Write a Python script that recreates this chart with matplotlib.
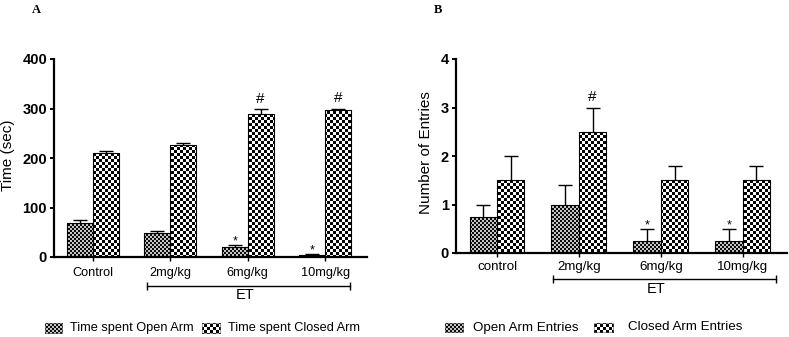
import numpy as np
import matplotlib
matplotlib.use('Agg')
import matplotlib.pyplot as plt
from matplotlib.patches import Rectangle
import matplotlib.transforms as mtransforms

# ---------------- data ----------------
groups_a = ['Control', '2mg/kg', '6mg/kg', '10mg/kg']
groups_b = ['control', '2mg/kg', '6mg/kg', '10mg/kg']

open_time = [68, 48, 21, 5]
open_time_err = [6, 5, 4, 2]
closed_time = [211, 226, 289, 296]
closed_time_err = [4, 4, 9, 3]

open_entries = [0.75, 1.0, 0.25, 0.25]
open_entries_err = [0.25, 0.4, 0.25, 0.25]
closed_entries = [1.5, 2.5, 1.5, 1.5]
closed_entries_err = [0.5, 0.5, 0.3, 0.3]

marks_a_open = ['', '', '*', '*']
marks_a_closed = ['', '', '#', '#']
marks_b_open = ['', '', '*', '*']
marks_b_closed = ['', '#', '', '']

legend_a = ['Time spent Open Arm', 'Time spent Closed Arm']
legend_b = ['Open Arm Entries', 'Closed Arm Entries']
ylabel_a = 'Time (sec)'
ylabel_b = 'Number of Entries'
yticks_a = [0, 100, 200, 300, 400]
yticks_b = [0, 1, 2, 3, 4]
bracket_label = 'ET'

# ---------------- style ----------------
plt.rcParams['font.family'] = ['Liberation Sans', 'DejaVu Sans']
W, H = 789, 337
fig = plt.figure(figsize=(W / 100, H / 100), dpi=100, facecolor='white')


def px_rect(l, r, t, b):
    return [l / W, (H - b) / H, (r - l) / W, (b - t) / H]


def checker(n):
    yy, xx = np.mgrid[0:H, 0:W]
    return ((xx // n + yy // n) % 2).astype(float)


CHK_OPEN = checker(2) * 0.72 + 0.05
CHK_CLOSED = checker(3)


def texture(patch, chk):
    im = fig.figimage(chk, cmap='gray', vmin=0, vmax=1, zorder=-1)
    im.set_clip_path(patch)


def panel(rect, cats, ov, oe, cv, ce, mo, mc, yticks, ylabel, xfs,
          ylab_xy, xpad, bracket, et_pos, legend_labels, legend_px, letter):
    ax = fig.add_axes(rect)
    ax.set_facecolor('none')
    x = np.arange(len(cats))
    w = 0.335
    bo = ax.bar(x - w / 2, ov, w, facecolor='none', edgecolor='black', lw=0.8, zorder=2)
    bc = ax.bar(x + w / 2, cv, w, facecolor='none', edgecolor='black', lw=0.8, zorder=2)
    for p in bo.patches:
        texture(p, CHK_OPEN)
    for p in bc.patches:
        texture(p, CHK_CLOSED)
    for xs, vals, errs in [(x - w / 2, ov, oe), (x + w / 2, cv, ce)]:
        eb = ax.errorbar(xs, vals, yerr=[np.zeros(len(vals)), errs], fmt='none',
                         ecolor='black', elinewidth=1.0, capsize=4.7, capthick=1.0,
                         zorder=3)
        eb[1][0].set_visible(False)
    for xs, vals, errs, marks in [(x - w / 2, ov, oe, mo), (x + w / 2, cv, ce, mc)]:
        for xi, v, e, m in zip(xs, vals, errs, marks):
            if m:
                off = 4.8 if m == '#' else 0.4
                fs = 11 if m == '#' else 9
                ax.annotate(m, xy=(xi, v + e), xytext=(0, off), textcoords='offset points',
                            ha='center', va='baseline', fontsize=fs)
    ax.set_xlim(-0.5, 3.54)
    ax.set_ylim(yticks[0], yticks[-1])
    ax.set_yticks(yticks)
    ax.set_xticks(x)
    ax.set_xticklabels(cats, fontsize=xfs)
    for lab in ax.get_yticklabels():
        lab.set_fontweight('bold')
        lab.set_fontsize(10.5)
    for s in ['top', 'right']:
        ax.spines[s].set_visible(False)
    for s in ['left', 'bottom']:
        ax.spines[s].set_linewidth(1.6)
    ax.tick_params(axis='y', direction='out', length=3, width=1.4, pad=2)
    ax.tick_params(axis='x', direction='out', length=3, width=1.0, pad=xpad)
    ax.set_ylabel(ylabel, fontsize=11)
    ax.yaxis.set_label_coords(*ylab_xy)
    tr = mtransforms.blended_transform_factory(ax.transData, ax.transAxes)
    ax.plot([bracket[0], bracket[1]], [bracket[2], bracket[2]], transform=tr,
            color='black', lw=1.0, marker='|', markersize=6, mew=1.0, clip_on=False)
    ax.text(et_pos[0], et_pos[1], bracket_label, transform=tr, ha='center', va='center',
            fontsize=10.5)
    # legend
    (b1, t1, b2, t2, yt, yb, fs) = legend_px
    for (bl, br), tx, lab, chk in [(b1, t1, legend_labels[0], CHK_OPEN),
                                   (b2, t2, legend_labels[1], CHK_CLOSED)]:
        r = Rectangle((bl / W, (H - yb) / H), (br - bl) / W, (yb - yt) / H,
                      transform=fig.transFigure, facecolor='none', edgecolor='0.35',
                      lw=0.4)
        fig.add_artist(r)
        texture(r, chk)
        fig.text(tx / W, 1 - ((yt + yb) / 2) / H, lab, ha='left', va='center',
                 fontsize=fs)
    fig.text(letter[1] / W, 1 - letter[2] / H, letter[0], ha='left', va='top',
             fontsize=9, fontweight='bold', family='Liberation Serif')
    return ax


panel(px_rect(54, 367, 59, 257), groups_a, open_time, open_time_err, closed_time,
      closed_time_err, marks_a_open, marks_a_closed, yticks_a, ylabel_a, 9.2,
      (-0.125, 0.513), 4.5, (0.70, 3.32, -0.146), (1.97, -0.192), legend_a,
      ((45, 62), 70, (202, 220), 228, 323, 333, 9.2), ('A', 32, 4))

panel(px_rect(456, 787, 59, 253), groups_b, open_entries, open_entries_err,
      closed_entries, closed_entries_err, marks_b_open, marks_b_closed, yticks_b,
      ylabel_b, 9.6, (-0.07, 0.518), 2.5, (0.683, 3.40, -0.134), (1.94, -0.186),
      legend_b, ((445, 463), 473, (594, 613), 628, 323, 332, 9.6), ('B', 434, 4))

fig.savefig('out.png', dpi=100, facecolor='white')
